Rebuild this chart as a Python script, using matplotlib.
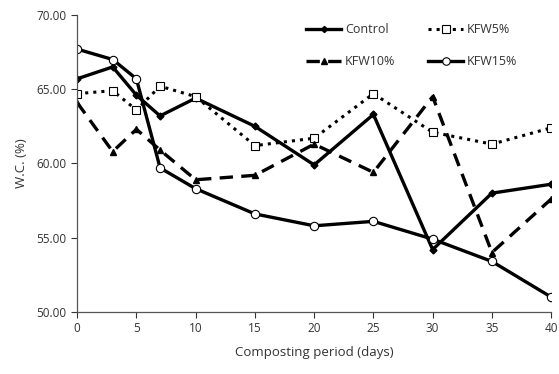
import matplotlib.pyplot as plt

plt.rcParams['font.family'] = ['Open Sans', 'DejaVu Sans']

days = [0, 3, 5, 7, 10, 15, 20, 25, 30, 35, 40]
control = [65.7, 66.5, 64.6, 63.2, 64.4, 62.5, 59.9, 63.3, 54.2, 58.0, 58.6]
kfw5 = [64.7, 64.9, 63.6, 65.2, 64.5, 61.2, 61.7, 64.7, 62.1, 61.3, 62.4]
kfw10 = [64.1, 60.8, 62.3, 60.9, 58.9, 59.2, 61.3, 59.4, 64.5, 54.0, 57.6]
kfw15 = [67.7, 67.0, 65.7, 59.7, 58.3, 56.6, 55.8, 56.1, 54.9, 53.4, 51.0]

fig = plt.figure(figsize=(5.59, 3.74), dpi=100)
ax = fig.add_axes([0.138, 0.166, 0.848, 0.794])

txt = '#333333'
l1, = ax.plot(days, control, '-', color='black', lw=2.4, marker='D', ms=3.5,
              mfc='black', label='Control')
l2, = ax.plot(days, kfw5, ':', color='black', lw=2.2, marker='s', ms=6,
              mfc='white', mew=0.8, label='KFW5%')
l3, = ax.plot(days, kfw10, '--', color='black', lw=2.4, marker='^', ms=5,
              mfc='black', label='KFW10%', dashes=(4, 2.5))
l4, = ax.plot(days, kfw15, '-', color='black', lw=2.4, marker='o', ms=6,
              mfc='white', mew=0.8, label='KFW15%')

ax.set_xlim(0, 40)
ax.set_ylim(50, 70)
ax.set_xticks([0, 5, 10, 15, 20, 25, 30, 35, 40])
ax.set_yticks([50, 55, 60, 65, 70])
ax.set_yticklabels([f'{v:.2f}' for v in [50, 55, 60, 65, 70]])
ax.tick_params(labelsize=8.5, colors=txt, length=4, width=0.8)
for s in ['top', 'right']:
    ax.spines[s].set_visible(False)
for s in ['left', 'bottom']:
    ax.spines[s].set_color('#555555')
    ax.spines[s].set_linewidth(0.9)

ax.set_xlabel('Composting period (days)', fontsize=9.5, color=txt, labelpad=8)
ax.set_ylabel('W.C. (%)', fontsize=9.5, color=txt, labelpad=6)

ax.legend([l1, l3, l2, l4], ['Control', 'KFW10%', 'KFW5%', 'KFW15%'],
          ncol=2, frameon=False, fontsize=9, loc='upper left',
          bbox_to_anchor=(0.46, 1.01), handlelength=2.8, columnspacing=2.6,
          handletextpad=0.3, labelspacing=1.5, labelcolor=txt, markerscale=0.9)

fig.savefig('out.png', dpi=100)
